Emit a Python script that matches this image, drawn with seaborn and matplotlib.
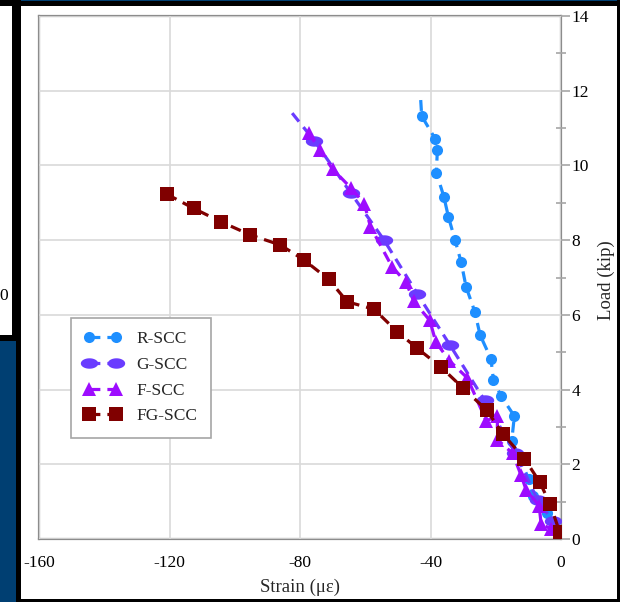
import numpy as np
import pandas as pd
import matplotlib
matplotlib.use("Agg")
import matplotlib.pyplot as plt
from matplotlib.patches import Rectangle
from matplotlib.path import Path
from matplotlib.ticker import MultipleLocator
import seaborn as sns

# ---------------- data ----------------
r_strain = [-43.0, -42.7, -38.6, -37.9, -38.2, -35.9, -34.5, -32.5, -30.6, -29.1,
            -26.4, -24.8, -21.5, -20.7, -18.4, -14.3, -15.1, -9.9, -8.7, -4.2, -2.2]
r_load = [11.75, 11.32, 10.72, 10.40, 9.81, 9.16, 8.62, 8.01, 7.41, 6.75,
          6.08, 5.46, 4.83, 4.26, 3.83, 3.29, 2.63, 1.61, 1.16, 0.69, 0.35]

g_strain = [-82.4, -75.6, -64.5, -54.3, -44.0, -34.1, -23.4, -14.0, -7.2, -2.5]
g_load = [11.40, 10.66, 9.27, 8.01, 6.56, 5.20, 3.71, 2.30, 1.05, 0.48]

f_strain = [-77.3, -73.9, -70.0, -64.3, -60.3, -58.4, -51.8, -47.5, -45.1, -40.2,
            -38.4, -34.2, -28.7, -22.9, -19.5, -19.5, -14.8, -12.3, -10.7, -6.7,
            -6.1, -3.1]
f_load = [10.88, 10.40, 9.90, 9.39, 8.98, 8.36, 7.29, 6.87, 6.36, 5.85,
          5.28, 4.77, 4.31, 3.16, 3.30, 2.66, 2.29, 1.72, 1.32, 0.89,
          0.41, 0.27]

fg_strain = [-120.8, -112.6, -104.2, -95.2, -86.0, -78.8, -71.2, -65.5, -57.3, -50.2,
             -44.0, -36.9, -29.9, -22.8, -17.7, -11.2, -6.5, -3.3, -0.4]
fg_load = [9.23, 8.85, 8.49, 8.14, 7.87, 7.47, 6.95, 6.35, 6.15, 5.55,
           5.10, 4.61, 4.03, 3.45, 2.80, 2.15, 1.52, 0.93, 0.18]

series_names = ["R-SCC", "G-SCC", "F-SCC", "FG-SCC"]
x_ticks = [-160, -120, -80, -40, 0]
y_ticks = [0, 2, 4, 6, 8, 10, 12, 14]

# ---------------- style ----------------
sns.set_style("white")
plt.rcParams["font.family"] = ["Liberation Serif", "DejaVu Serif"]
plt.rcParams["axes.unicode_minus"] = False

fig = plt.figure(figsize=(6.2, 6.02), dpi=100)
fig.patch.set_facecolor("white")
W, H = 620, 602
ax = fig.add_axes([39 / W, 1 - 539 / H, (561 - 39) / W, (539 - 16) / H])

theta = np.linspace(0, 2 * np.pi, 60)
ellipse = Path(np.column_stack([np.cos(theta), 0.6 * np.sin(theta)]))

colors = ["#1e8fff", "#6a3cff", "#9d0cff", "#800000"]
dash = (0, (3.4, 2.2))

df_r = pd.DataFrame({"strain": r_strain, "load": r_load})
df_g = pd.DataFrame({"strain": g_strain, "load": g_load})
df_f = pd.DataFrame({"strain": f_strain, "load": f_load})
df_fg = pd.DataFrame({"strain": fg_strain, "load": fg_load})

common = dict(x="strain", y="load", sort=False, estimator=None, ax=ax,
              linewidth=2.3, linestyle=dash)
sns.lineplot(data=df_r, color=colors[0], marker="o", markersize=8,
             markeredgewidth=0, markevery=list(range(1, len(r_strain))),
             label=series_names[0], **common)
sns.lineplot(data=df_g, color=colors[1], marker=ellipse, markersize=12.5,
             markeredgewidth=0, markevery=list(range(1, len(g_strain))),
             label=series_names[1], **common)
sns.lineplot(data=df_f, color=colors[2], marker="^", markersize=10,
             markeredgewidth=0, label=series_names[2], **common)
sns.lineplot(data=df_fg, color=colors[3], marker="s", markersize=9.5,
             markeredgewidth=0, label=series_names[3], **common)

ax.set_xlim(-160, 0)
ax.set_ylim(0, 14)
ax.set_xticks(x_ticks)
ax.set_yticks(y_ticks)
ax.xaxis.set_minor_locator(MultipleLocator(20))
ax.yaxis.set_minor_locator(MultipleLocator(1))
ax.yaxis.tick_right()
ax.yaxis.set_label_position("right")

ax.grid(True, which="major", color="#d9d9d9", linewidth=1.2)
ax.set_axisbelow(True)
for sp in ax.spines.values():
    sp.set_color("#8c8c8c")
    sp.set_linewidth(1.6)
    sp.set_zorder(0.5)

ax.tick_params(axis="both", which="major", direction="out", length=6.5,
               width=1.2, color="#a6a6a6", labelsize=12.5, labelcolor="black")
ax.tick_params(axis="x", which="major", pad=5)
ax.tick_params(axis="y", which="major", pad=1, right=True, left=False)
ax.tick_params(axis="both", which="minor", direction="inout", length=7,
               width=1.2, color="#a6a6a6")
ax.tick_params(axis="y", which="minor", right=True, left=False)

ax.set_xlabel("Strain (\u03bc\u03b5)", fontsize=13.5)
ax.set_ylabel("Load (kip)", fontsize=13.5)
ax.xaxis.set_label_coords(0.5, -0.075)
ax.yaxis.set_label_coords(1.07, 0.495)

leg = ax.legend(loc="upper left", bbox_to_anchor=((70.7 - 39) / 522, (539 - 317.7) / 523),
                borderaxespad=0, frameon=True, fancybox=False, framealpha=1,
                edgecolor="#a6a6a6", fontsize=12.5, numpoints=2,
                handlelength=2.15, handletextpad=0.9, borderpad=0.75,
                labelspacing=0.56)
leg.get_frame().set_linewidth(1.2)

# ---------------- surrounding screenshot decor ----------------
def rect(x0, y0, x1, y1, color):
    fig.patches.append(Rectangle((x0 / W, 1 - y1 / H), (x1 - x0) / W, (y1 - y0) / H,
                                 transform=fig.transFigure, facecolor=color,
                                 edgecolor="none", zorder=5))

navy = "#003f72"
rect(0, 0, W, 6, "black")
rect(18, 0, W, 1, navy)
rect(12, 0, 21, 341, "black")
rect(0, 335, 21, 341, "black")
rect(0, 341, 16, H, navy)
rect(16, 341, 21, H, "black")
rect(617, 0, W, H, "black")
rect(21, 598.5, W, H, "black")
fig.text(7.5 / W, 1 - 296.5 / H, "0", ha="right", va="center", fontsize=12.5,
         color="black", zorder=6)

fig.savefig("out.png", dpi=100, facecolor="white")
